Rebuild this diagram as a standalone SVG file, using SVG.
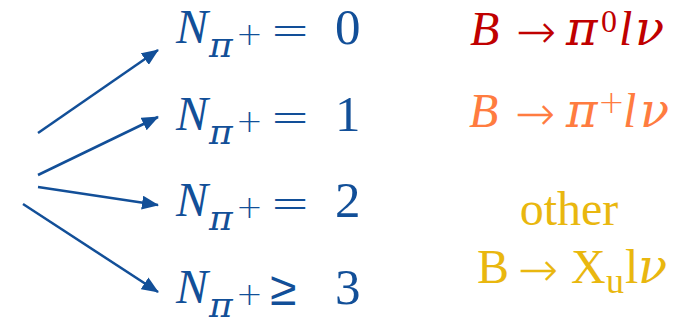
<svg xmlns="http://www.w3.org/2000/svg" width="675" height="324" viewBox="0 0 675 324">
<defs>
<marker id="ah" markerUnits="userSpaceOnUse" markerWidth="17" markerHeight="14" refX="16" refY="7" orient="auto">
<path d="M0,0 L17,7 L0,14 z" fill="#124f98"/>
</marker>
<style>
.m{font-family:"Liberation Serif","DejaVu Serif",serif;fill:#124f98;font-size:48px}
.g{font-family:"DejaVu Serif",serif;font-style:italic}
.op{font-family:"DejaVu Sans",sans-serif;font-weight:200}
.i{font-style:italic}
.dig{font-size:51px}
.sub{font-size:36px}
.sup{font-size:32px}
.conn line{stroke:#124f98;stroke-width:2.5;marker-end:url(#ah)}
.r1{fill:#c00000}
.r2{fill:#ff7c40}
.r3{fill:#e9b70f}
</style>
</defs>
<rect width="675" height="324" fill="#ffffff"/>
<g id="connectors" class="conn">
<line x1="38" y1="133" x2="158" y2="50"/>
<line x1="38" y1="175" x2="158" y2="117"/>
<line x1="38" y1="187" x2="158" y2="205"/>
<line x1="23" y1="204" x2="158" y2="292"/>
</g>
<g id="n0">
<text class="m"><tspan x="176" y="43" class="i">N</tspan><tspan x="209" y="57" class="sub g">π</tspan><tspan x="236" y="45" class="sup op">+</tspan><tspan x="270" y="46" class="op">=</tspan><tspan x="335" y="44" class="dig">0</tspan></text>
</g>
<g id="n1">
<text class="m"><tspan x="176" y="130" class="i">N</tspan><tspan x="209" y="144" class="sub g">π</tspan><tspan x="236" y="132" class="sup op">+</tspan><tspan x="270" y="133" class="op">=</tspan><tspan x="335" y="131" class="dig">1</tspan></text>
</g>
<g id="n2">
<text class="m"><tspan x="176" y="216" class="i">N</tspan><tspan x="209" y="230" class="sub g">π</tspan><tspan x="236" y="218" class="sup op">+</tspan><tspan x="270" y="219" class="op">=</tspan><tspan x="335" y="217" class="dig">2</tspan></text>
</g>
<g id="n3">
<text class="m"><tspan x="176" y="303" class="i">N</tspan><tspan x="209" y="317" class="sub g">π</tspan><tspan x="236" y="305" class="sup op">+</tspan><tspan x="270" y="305" class="op">≥</tspan><tspan x="335" y="304" class="dig">3</tspan></text>
</g>
<g id="pi0">
<text class="m r1"><tspan x="470" y="45" class="i">B</tspan><tspan x="516" y="48" class="op">→</tspan><tspan x="566" y="45" class="g">π</tspan><tspan x="601" y="32" class="sup">0</tspan><tspan x="619" y="45" class="i">l</tspan><tspan x="635" y="45" class="g">ν</tspan></text>
</g>
<g id="piplus">
<text class="m r2"><tspan x="469" y="127" class="i">B</tspan><tspan x="515" y="130" class="op">→</tspan><tspan x="566" y="127" class="g">π</tspan><tspan x="598" y="113" class="sup op">+</tspan><tspan x="623" y="127" class="i">l</tspan><tspan x="640" y="127" class="g">ν</tspan></text>
</g>
<g id="other">
<text class="m r3" x="569" y="225" text-anchor="middle">other</text>
<text class="m r3"><tspan x="477" y="283">B</tspan><tspan x="518" y="286" class="op">→</tspan><tspan x="571" y="283">X</tspan><tspan x="606" y="293" class="sub">u</tspan><tspan x="625" y="283">l</tspan><tspan x="638" y="283" class="g">ν</tspan></text>
</g>
</svg>
